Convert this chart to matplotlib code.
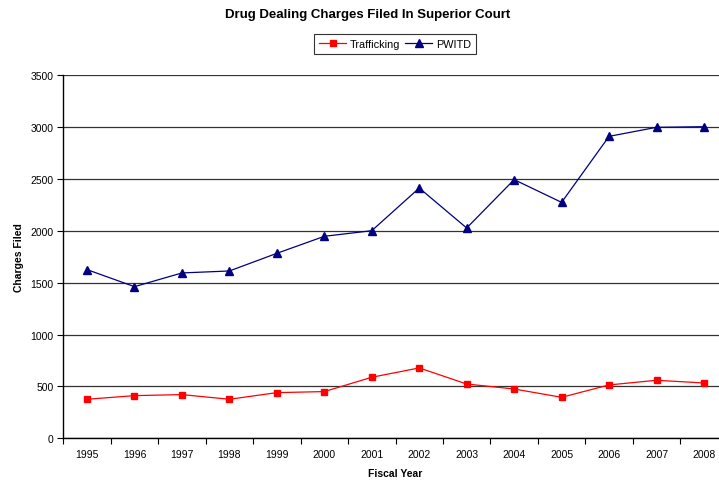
import numpy as np
from matplotlib import pyplot as plt

plt.rcParams['font.family'] = ['Liberation Sans', 'DejaVu Sans']

years = ['1995', '1996', '1997', '1998', '1999', '2000', '2001',
         '2002', '2003', '2004', '2005', '2006', '2007', '2008']
trafficking = [376, 411, 421, 376, 440, 450, 588, 678, 523, 475, 395, 514, 559, 533]
pwitd = [1625, 1461, 1593, 1612, 1782, 1946, 2000, 2411, 2026, 2492, 2273, 2909, 2996, 3002]
y_ticks = [0, 500, 1000, 1500, 2000, 2500, 3000, 3500]

W, H = 719, 485
fig = plt.figure(figsize=(W / 100, H / 100), dpi=100)
# plot area runs past the right edge, like the cropped original
left, right, top, bottom = 63.3, 727.7, 76.0, 439.3
ax = fig.add_axes([left / W, 1 - bottom / H, (right - left) / W, (bottom - top) / H])

x = np.arange(len(years))
ax.plot(x, trafficking, color='#FF0000', lw=0.9, marker='s', ms=4.5, label='Trafficking')
ax.plot(x, pwitd, color='#000080', lw=0.9, marker='^', ms=5.5, label='PWITD')

ax.set_xlim(-0.5, len(years) - 0.5)
ax.set_ylim(0, 3500)
ax.set_yticks(y_ticks)
ax.set_yticklabels([str(v) for v in y_ticks], fontsize=7.5)
ax.yaxis.grid(True, color='#333333', lw=0.9)
ax.set_axisbelow(True)

# category ticks sit between the years
ax.set_xticks(np.arange(-0.5, len(years) + 0.5, 1))
ax.set_xticklabels([])
ax.set_xticks(x, minor=True)
ax.set_xticklabels(years, minor=True, fontsize=7.5)
ax.tick_params(axis='x', which='major', direction='out', length=4, width=0.8)
ax.tick_params(axis='x', which='minor', length=0, pad=8)
ax.tick_params(axis='y', direction='out', length=4, width=0.8, pad=3)

for s in ['top', 'right']:
    ax.spines[s].set_visible(False)
ax.spines['left'].set_linewidth(1)
ax.spines['bottom'].set_linewidth(1)

ax.set_xlabel('Fiscal Year', fontsize=7.5, fontweight='bold', labelpad=6)
ax.set_ylabel('Charges Filed', fontsize=7.5, fontweight='bold', labelpad=5)

fig.text(368 / W, 1 - 15 / H, 'Drug Dealing Charges Filed In Superior Court',
         ha='center', va='center', fontsize=9.5, fontweight='bold')

leg = fig.legend(loc='center', bbox_to_anchor=(395 / W, 1 - 45 / H), ncol=2,
                 fontsize=7.8, frameon=True, fancybox=False, edgecolor='black',
                 handlelength=2.5, columnspacing=0.5, handletextpad=0.3,
                 borderpad=0.45)
leg.get_frame().set_linewidth(0.8)

fig.savefig('out.png', dpi=100)
